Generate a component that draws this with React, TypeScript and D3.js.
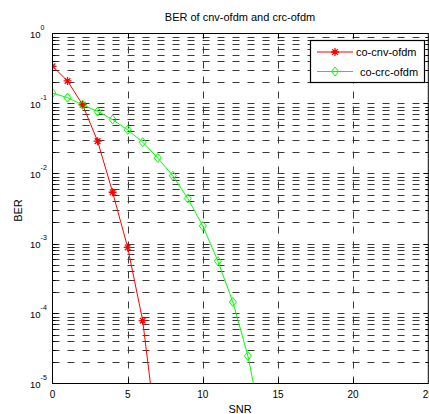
import React from "react";
import * as d3 from "d3";

// SNR points and measured BER for each scheme
const snrCnv = [0, 1, 2, 3, 4, 5, 6, 7];
const berCnv = [0.34, 0.21, 0.096, 0.029, 0.0054, 0.00088, 0.000079, 0.0000014];
const snrCrc = [0, 1, 2, 3, 4, 5, 6, 7, 8, 9, 10, 11, 12, 13, 14];
const berCrc = [
  0.141, 0.121, 0.096, 0.077, 0.059, 0.042, 0.028, 0.0167, 0.0093, 0.0044,
  0.00178, 0.00056, 0.000146, 0.0000247, 0.0000021,
];
const xTicks = [0, 5, 10, 15, 20, 25];
const yExponents = [0, -1, -2, -3, -4, -5];
const seriesNames = ["co-cnv-ofdm", "co-crc-ofdm"];

const W = 429;
const H = 414;
const left = 52.5;
const right = 428.3;
const top = 33.5;
const bottom = 383.5;

const starPath = (r: number) =>
  `M${-r},0L${r},0M0,${-r}L0,${r}M${-r * 0.7},${-r * 0.7}L${r * 0.7},${r * 0.7}M${-r * 0.7},${r * 0.7}L${r * 0.7},${-r * 0.7}`;
const diamondPath = (w: number, h: number) => `M0,${-h}L${w},0L0,${h}L${-w},0Z`;

export default function App() {
  const x = d3.scaleLinear().domain([0, 25]).range([left, right]);
  const y = d3.scaleLog().domain([1e-5, 1]).range([bottom, top]);

  const line = d3
    .line<[number, number]>()
    .x((d) => x(d[0]))
    .y((d) => y(d[1]));

  const cnv: [number, number][] = snrCnv.map((s, i) => [s, berCnv[i]]);
  const crc: [number, number][] = snrCrc.map((s, i) => [s, berCrc[i]]);
  const inside = (d: [number, number]) => d[1] >= 1e-5 && d[1] <= 1;

  // minor + major y gridlines
  const yGrid: number[] = [];
  for (let e = -5; e < 0; e++) {
    for (let m = 1; m <= 9; m++) yGrid.push(m * Math.pow(10, e));
  }
  yGrid.push(1);

  const gridColor = "#3a3a3a";
  const dash = "7,8";

  return (
    <div style={{ position: "absolute", left: 0, top: 0 }}>
      <svg width={W} height={H} style={{ display: "block", background: "#fff" }} fontFamily="'Liberation Sans', Arial, sans-serif">
        <defs>
          <clipPath id="plot">
            <rect x={left} y={top} width={right - left} height={bottom - top} />
          </clipPath>
        </defs>

        {/* grid */}
        <g stroke={gridColor} strokeWidth={1} strokeDasharray={dash} fill="none">
          {yGrid
            .filter((v) => v > 1e-5 && v < 1)
            .map((v, i) => (
              <line key={"gy" + i} x1={left} x2={right} y1={Math.round(y(v)) + 0.5} y2={Math.round(y(v)) + 0.5} />
            ))}
          {xTicks
            .filter((t) => t > 0 && t < 25)
            .map((t) => (
              <line key={"gx" + t} x1={Math.round(x(t)) + 0.5} x2={Math.round(x(t)) + 0.5} y1={bottom} y2={top} />
            ))}
        </g>

        {/* ticks */}
        <g stroke="#000" strokeWidth={1}>
          {yGrid
            .filter((v) => v > 1e-5 && v < 1)
            .map((v, i) => {
              const isMajor = Math.abs(Math.log10(v) - Math.round(Math.log10(v))) < 1e-6;
              const len = isMajor ? 5 : 3;
              const yy = Math.round(y(v)) + 0.5;
              return (
                <g key={"ty" + i}>
                  <line x1={left} x2={left + len} y1={yy} y2={yy} />
                  <line x1={right} x2={right - len} y1={yy} y2={yy} />
                </g>
              );
            })}
          {xTicks
            .filter((t) => t > 0 && t < 25)
            .map((t) => (
              <g key={"tx" + t}>
                <line x1={Math.round(x(t)) + 0.5} x2={Math.round(x(t)) + 0.5} y1={bottom} y2={bottom - 5} />
                <line x1={Math.round(x(t)) + 0.5} x2={Math.round(x(t)) + 0.5} y1={top} y2={top + 5} />
              </g>
            ))}
        </g>

        {/* series */}
        <g clipPath="url(#plot)">
          <path d={line(cnv) ?? ""} fill="none" stroke="#ff0000" strokeWidth={1} />
          <path d={line(crc) ?? ""} fill="none" stroke="#00ff00" strokeWidth={1} />
          {cnv.filter(inside).map((d, i) => (
            <path key={"m1" + i} d={starPath(4)} transform={`translate(${x(d[0])},${y(d[1])})`} stroke="#ff0000" strokeWidth={1.3} fill="none" />
          ))}
          {crc.filter(inside).map((d, i) => (
            <path key={"m2" + i} d={diamondPath(3.5, 4.5)} transform={`translate(${x(d[0])},${y(d[1])})`} stroke="#00ff00" strokeWidth={1} fill="none" />
          ))}
        </g>

        {/* axes box */}
        <rect x={left} y={top} width={right - left} height={bottom - top} fill="none" stroke="#000" strokeWidth={1} />

        {/* y tick labels */}
        {yExponents.map((e) => (
          <text key={"ly" + e} x={30} y={y(Math.pow(10, e)) + 4} fontSize={9.5} fill="#000">
            10
            <tspan dy={-8} fontSize={7}>
              {e}
            </tspan>
          </text>
        ))}

        {/* x tick labels */}
        {xTicks.map((t) => (
          <text key={"lx" + t} x={x(t)} y={398} fontSize={10} textAnchor="middle" fill="#000">
            {t}
          </text>
        ))}

        {/* labels */}
        <text x={240} y={21} fontSize={11} textAnchor="middle" fill="#000">
          BER of cnv-ofdm and crc-ofdm
        </text>
        <text x={240} y={413} fontSize={11} textAnchor="middle" fill="#000">
          SNR
        </text>
        <text transform="translate(21.5,210.5) rotate(-90)" fontSize={11} textAnchor="middle" fill="#000">
          BER
        </text>

        {/* legend */}
        <g>
          <rect x={310.5} y={40.5} width={114} height={42} fill="#fff" stroke="#000" strokeWidth={1.2} />
          <line x1={317} x2={353} y1={52} y2={52} stroke="#ff0000" strokeWidth={1} />
          <path d={starPath(4)} transform="translate(335,52)" stroke="#ff0000" strokeWidth={1.3} fill="none" />
          <text x={356} y={56} fontSize={11} fill="#000">
            {seriesNames[0]}
          </text>
          <line x1={317} x2={353} y1={71.5} y2={71.5} stroke="#00ff00" strokeWidth={1} />
          <path d={diamondPath(3.5, 4.5)} transform="translate(335,71.5)" stroke="#00ff00" strokeWidth={1} fill="none" />
          <text x={360} y={75.5} fontSize={11} fill="#000">
            {seriesNames[1]}
          </text>
        </g>
      </svg>
    </div>
  );
}
